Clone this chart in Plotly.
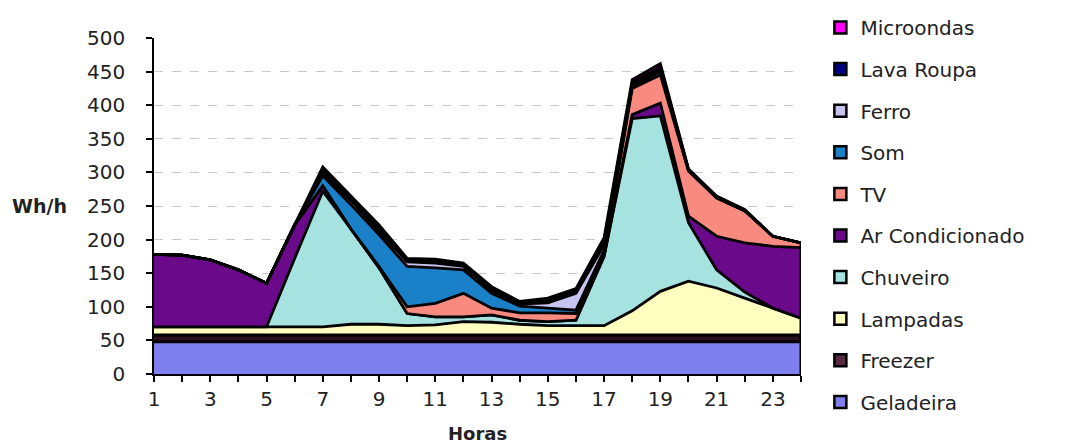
import plotly.graph_objects as go

hours = list(range(1, 25))
hour_labels = ["1", "3", "5", "7", "9", "11", "13", "15", "17", "19", "21", "23"]
hour_ticks = [1, 3, 5, 7, 9, 11, 13, 15, 17, 19, 21, 23]
y_ticks = [0, 50, 100, 150, 200, 250, 300, 350, 400, 450, 500]

geladeira = [48, 48, 48, 48, 48, 48, 48, 48, 48, 48, 48, 48, 48, 48, 48, 48, 48, 48, 48, 48, 48, 48, 48, 48]
freezer = [10, 10, 10, 10, 10, 10, 10, 10, 10, 10, 10, 10, 10, 10, 10, 10, 10, 10, 10, 10, 10, 10, 10, 10]
lampadas = [12, 12, 12, 12, 12, 12, 12, 16, 16, 14, 15, 20, 19, 16, 14, 14, 14, 36, 65, 80, 70, 55, 40, 25]
chuveiro = [0, 0, 0, 0, 0, 102, 202, 142, 84, 18, 12, 7, 11, 6, 6, 8, 103, 286, 261, 87, 27, 9, 0, 0]
ar_cond = [108, 107, 100, 85, 65, 50, 8, 0, 0, 0, 0, 0, 0, 0, 0, 0, 0, 6, 19, 10, 50, 73, 92, 105]
tv = [0, 0, 0, 0, 0, 0, 0, 0, 2, 10, 20, 35, 10, 11, 13, 10, 3, 39, 42, 67, 57, 48, 15, 7]
som = [0, 0, 0, 0, 0, 0, 15, 36, 47, 60, 53, 35, 22, 10, 7, 5, 6, 3, 5, 1, 0, 0, 0, 0]
ferro = [0, 0, 0, 0, 0, 0, 3, 6, 5, 7, 7, 5, 4, 3, 8, 25, 8, 2, 2, 0, 0, 0, 0, 0]
lava_roupa = [0, 0, 0, 0, 0, 0, 5, 4, 6, 2, 3, 2, 3, 2, 4, 4, 6, 4, 5, 2, 0, 0, 0, 0]
microondas = [0, 0, 0, 0, 0, 0, 5, 3, 4, 3, 3, 3, 3, 2, 3, 3, 5, 4, 5, 0, 3, 2, 0, 0]

# name, values, area fill, legend swatch colour
series = [
    ("Geladeira", geladeira, "#7f7ff0", "#7f7ff0"),
    ("Freezer", freezer, "#2a0f1c", "#5a2a42"),
    ("Lampadas", lampadas, "#ffffc0", "#ffffc0"),
    ("Chuveiro", chuveiro, "#a6e3e0", "#a6e3e0"),
    ("Ar Condicionado", ar_cond, "#6a0a8a", "#6a0a8a"),
    ("TV", tv, "#f98a80", "#f98a80"),
    ("Som", som, "#1a80c8", "#1a80c8"),
    ("Ferro", ferro, "#c8c4f0", "#c8c4f0"),
    ("Lava Roupa", lava_roupa, "#000080", "#000080"),
    ("Microondas", microondas, "#ff00ff", "#ff00ff"),
]

FONT = "DejaVu Sans"
TXT = "#222222"
fig = go.Figure()

for name, vals, col, _ in series:
    fig.add_trace(go.Scatter(
        x=hours, y=vals, name=name, stackgroup="one", mode="lines",
        line=dict(color="black", width=2.8), fillcolor=col,
        showlegend=False, hoverinfo="x+y+name",
    ))

# closing edge at the last hour
totals = [sum(s[1][i] for s in series) for i in range(len(hours))]
fig.add_trace(go.Scatter(x=[hours[-1], hours[-1]], y=[0, totals[-1]], mode="lines",
                         line=dict(color="black", width=3), showlegend=False, hoverinfo="skip"))

# legend entries (square swatches), top to bottom
for name, vals, col, lcol in reversed(series):
    fig.add_trace(go.Bar(x=[None], y=[None], name=name, legendgroup=name,
                         marker=dict(color=lcol, line=dict(color="black", width=2.5)),
                         showlegend=True))

fig.update_layout(
    width=1076, height=446,
    margin=dict(l=146, r=283, t=30, b=80),
    plot_bgcolor="white", paper_bgcolor="white",
    font=dict(family=FONT, size=20, color=TXT),
    legend=dict(
        xref="container", yref="paper", x=0.755, y=1.113,
        xanchor="left", yanchor="top",
        font=dict(family=FONT, size=20, color=TXT),
        traceorder="grouped", tracegroupgap=12.6, bgcolor="rgba(0,0,0,0)",
    ),
    xaxis=dict(
        range=[1, 24], tickmode="array", tickvals=hour_ticks, ticktext=hour_labels,
        ticks="outside", ticklen=6, tickcolor="black", tickwidth=1.5,
        showline=True, linecolor="black", linewidth=1.5, showgrid=False, zeroline=False,
        minor=dict(tickmode="linear", tick0=1, dtick=1, ticks="outside", ticklen=6,
                   tickcolor="black", tickwidth=1.5, showgrid=False),
        tickfont=dict(family=FONT, size=20, color=TXT),
    ),
    yaxis=dict(
        range=[0, 500], tickmode="array", tickvals=y_ticks,
        ticks="outside", ticklen=6, tickcolor="black", tickwidth=1.5,
        showline=True, linecolor="black", linewidth=1.5,
        showgrid=True, gridcolor="#c8c8c8", griddash="dash", gridwidth=1, zeroline=False,
        tickfont=dict(family=FONT, size=20, color=TXT), ticklabelstandoff=17,
    ),
    annotations=[
        dict(text="<b>Wh/h</b>", xref="paper", yref="paper", x=-0.131, y=0.5,
             xanchor="right", yanchor="middle", showarrow=False,
             font=dict(family=FONT, size=19, color=TXT)),
        dict(text="<b>Horas</b>", xref="paper", yref="paper", x=0.5, y=-0.178,
             xanchor="center", yanchor="middle", showarrow=False,
             font=dict(family=FONT, size=18, color=TXT)),
    ],
    showlegend=True,
)

try:
    fig.update_layout(legend_maxheight=446)
except Exception:
    pass

fig.write_html("out.html")
